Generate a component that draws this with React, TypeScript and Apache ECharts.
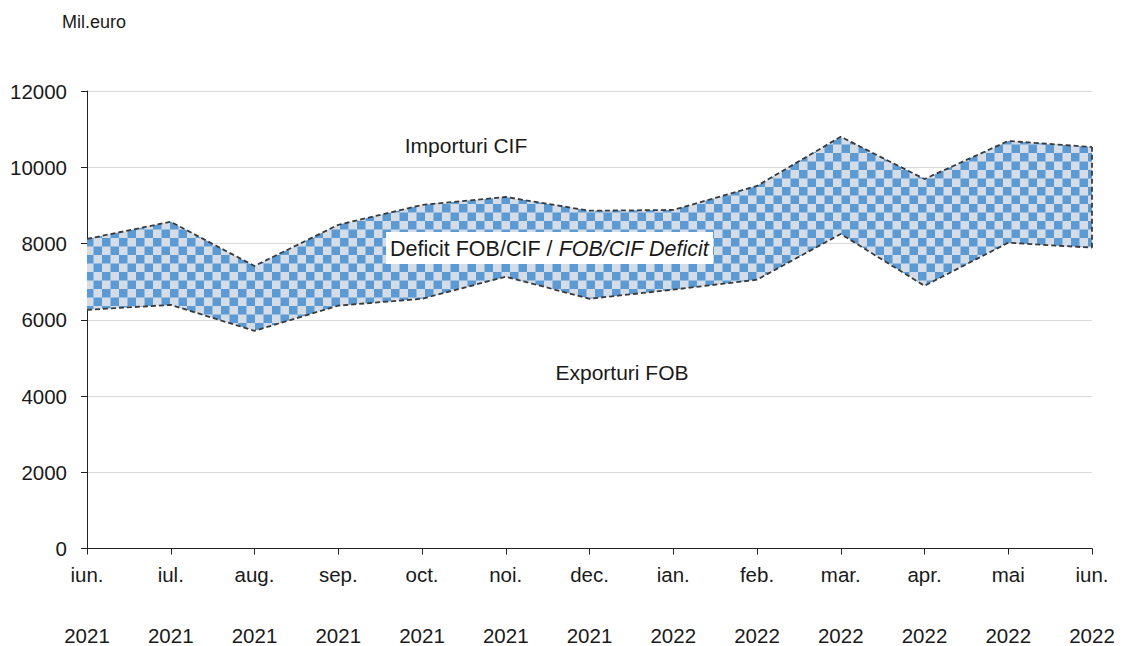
import React, { useEffect, useRef } from "react";
import * as echarts from "echarts";

const months = ["iun.", "iul.", "aug.", "sep.", "oct.", "noi.", "dec.", "ian.", "feb.", "mar.", "apr.", "mai", "iun."];
const years = ["2021", "2021", "2021", "2021", "2021", "2021", "2021", "2022", "2022", "2022", "2022", "2022", "2022"];
const importuri = [8120, 8570, 7410, 8490, 9010, 9220, 8860, 8880, 9510, 10800, 9690, 10690, 10530];
const exporturi = [6260, 6390, 5710, 6370, 6550, 7130, 6550, 6790, 7050, 8250, 6890, 8020, 7890];
const yTicks = { min: 0, max: 12000, interval: 2000 };

function makePattern(): HTMLCanvasElement {
  const s = 8.5;
  const n = 34;
  const c = document.createElement("canvas");
  c.width = n;
  c.height = n;
  const ctx = c.getContext("2d")!;
  ctx.fillStyle = "#d6dce6";
  ctx.fillRect(0, 0, n, n);
  ctx.fillStyle = "#5b9bd5";
  for (let i = 0; i < 4; i++) {
    for (let j = 0; j < 4; j++) {
      if ((i + j) % 2 === 0) ctx.fillRect(i * s, j * s, s, s);
    }
  }
  return c;
}

export default function App() {
  const ref = useRef<HTMLDivElement>(null);
  useEffect(() => {
    document.body.style.margin = "0";
    const chart = echarts.init(ref.current!, null, { renderer: "svg" });
    const pattern = makePattern();
    const deficit = importuri.map((v, i) => v - exporturi[i]);
    const cats = months.map((m, i) => `${m}|${years[i]}`);
    const last = cats.length - 1;
    const font = "Liberation Sans, Arial, sans-serif";
    const dark = "#3a3a3a";
    const txt = "#1a1a1a";
    const dash = { color: dark, width: 1.8, type: [5, 3] };
    chart.setOption({
      animation: false,
      textStyle: { fontFamily: font },
      grid: { left: 87, right: 35, top: 91, bottom: 97 },
      xAxis: {
        type: "category",
        data: cats,
        boundaryGap: false,
        axisLine: { lineStyle: { color: "#222", width: 1 } },
        axisTick: { show: true, length: 6, lineStyle: { color: "#222" } },
        axisLabel: {
          margin: 16,
          interval: 0,
          formatter: (v: string) => {
            const [m, y] = v.split("|");
            return `{m|${m}}\n{y|${y}}`;
          },
          rich: {
            m: { fontSize: 20.5, lineHeight: 20, color: txt, fontFamily: font },
            y: { fontSize: 20.5, lineHeight: 102, color: txt, fontFamily: font },
          },
        },
      },
      yAxis: {
        type: "value",
        min: yTicks.min,
        max: yTicks.max,
        interval: yTicks.interval,
        axisLine: { show: true, lineStyle: { color: "#222", width: 1 } },
        axisTick: { show: true, length: 6, lineStyle: { color: "#222" } },
        axisLabel: {
          fontSize: 20.5,
          color: txt,
          margin: 20,
          fontFamily: font,
          formatter: (v: number) => String(v),
        },
        splitLine: { lineStyle: { color: "#d9d9d9", width: 1 } },
      },
      series: [
        {
          name: "Exporturi FOB",
          type: "line",
          stack: "a",
          data: exporturi,
          showSymbol: false,
          symbol: "none",
          z: 4,
          lineStyle: dash,
        },
        {
          name: "Deficit",
          type: "line",
          stack: "a",
          data: deficit,
          showSymbol: false,
          symbol: "none",
          z: 3,
          lineStyle: dash,
          areaStyle: {
            opacity: 1,
            color: { image: pattern, repeat: "repeat", imageWidth: 34, imageHeight: 34 },
          },
          markLine: {
            silent: true,
            symbol: "none",
            label: { show: false },
            lineStyle: dash,
            data: [[{ coord: [last, exporturi[last]] }, { coord: [last, importuri[last]] }]],
          },
        },
      ],
      graphic: [
        {
          type: "text",
          left: 62,
          top: 13,
          style: { text: "Mil.euro", font: `18px ${font}`, fill: txt },
        },
        {
          type: "text",
          x: 466,
          y: 145,
          style: { text: "Importuri CIF", font: `21px ${font}`, fill: txt, align: "center", verticalAlign: "middle" },
        },
        {
          type: "text",
          x: 622,
          y: 372,
          style: { text: "Exporturi FOB", font: `21px ${font}`, fill: txt, align: "center", verticalAlign: "middle" },
        },
        {
          type: "rect",
          shape: { x: 386, y: 232, width: 327, height: 32 },
          style: { fill: "#ffffff" },
          z: 100,
        },
        {
          type: "text",
          x: 549.5,
          y: 249,
          z: 101,
          style: {
            text: "{n|Deficit FOB/CIF / }{i|FOB/CIF Deficit}",
            align: "center",
            verticalAlign: "middle",
            rich: {
              n: { fontSize: 21.5, fontFamily: font, fill: txt },
              i: { fontSize: 21.5, fontFamily: font, fontStyle: "italic", fill: txt },
            },
          },
        },
      ],
    });
    return () => chart.dispose();
  }, []);
  return <div ref={ref} style={{ width: 1127, height: 646 }} />;
}
